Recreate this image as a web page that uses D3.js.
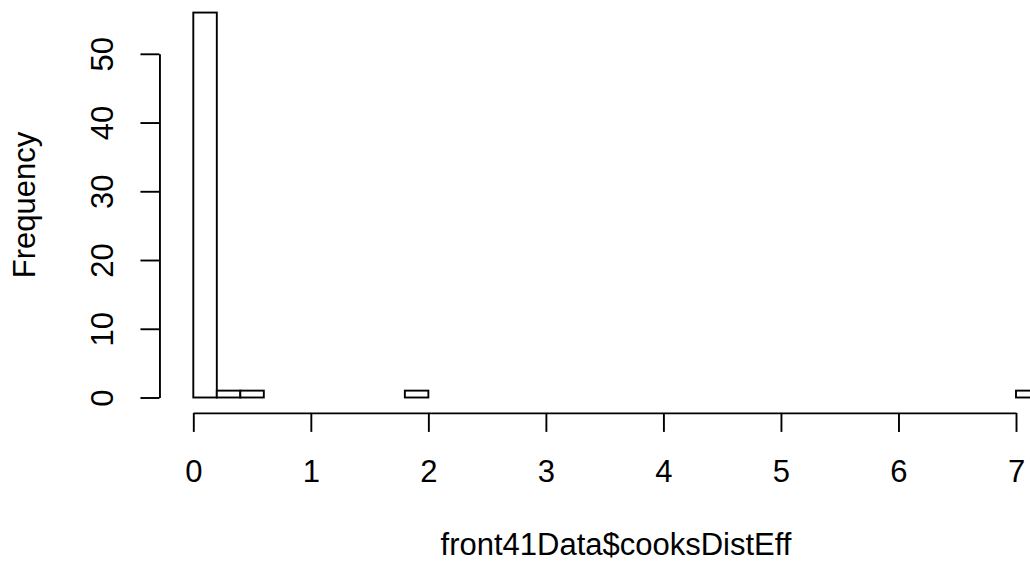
<!DOCTYPE html>
<html>
<head>
<meta charset="utf-8">
<script src="https://cdn.jsdelivr.net/npm/d3@7"></script>
<style>
  html, body { margin: 0; padding: 0; background: #fff; }
  svg { display: block; }
  text { font-family: "Liberation Sans", Arial, Helvetica, sans-serif; fill: #000; }
</style>
</head>
<body>
<svg id="chart" width="1030" height="565"></svg>
<script>
// Histogram bins (width 0.2) and their counts
const binStarts = [0.0,0.2,0.4,0.6,0.8,1.0,1.2,1.4,1.6,1.8,2.0,2.2,2.4,2.6,2.8,3.0,3.2,3.4,
                   3.6,3.8,4.0,4.2,4.4,4.6,4.8,5.0,5.2,5.4,5.6,5.8,6.0,6.2,6.4,6.6,6.8,7.0];
const binWidth = 0.2;
const counts = [56,1,1,0,0,0,0,0,0,1,0,0,0,0,0,0,0,0,
                0,0,0,0,0,0,0,0,0,0,0,0,0,0,0,0,0,1];
const xTicks = [0,1,2,3,4,5,6,7];
const yTicks = [0,10,20,30,40,50];
const xLabel = "front41Data$cooksDistEff";
const yLabel = "Frequency";

const svg = d3.select("#chart");
const lw = 1.9;
const fontSize = 31;

const x = d3.scaleLinear().domain([0, 7]).range([193.3, 1016]);
const y = d3.scaleLinear().domain([0, 50]).range([397.5, 53.8]);

const axisY = y(-2.24);   // bottom of plot region (usr min)
const axisX = x(-0.288);  // left of plot region

// bars
svg.append("g").selectAll("rect")
  .data(binStarts.map((s, i) => ({s, c: counts[i]})))
  .join("rect")
  .attr("x", d => x(d.s))
  .attr("width", d => x(d.s + binWidth) - x(d.s))
  .attr("y", d => y(d.c))
  .attr("height", d => y(0) - y(d.c))
  .attr("fill", "#fff")
  .attr("stroke", "#000")
  .attr("stroke-width", lw);

// x axis
const gx = svg.append("g")
  .attr("transform", `translate(0,${axisY})`)
  .call(d3.axisBottom(x).tickValues(xTicks).tickFormat(d3.format("d")).tickSize(19).tickSizeOuter(0));
gx.select(".domain").attr("stroke-width", lw);
gx.selectAll(".tick line").attr("stroke-width", lw);
gx.selectAll(".tick text")
  .attr("y", 68.8).attr("dy", 0)
  .style("font-size", fontSize + "px")
  .style("font-family", '"Liberation Sans", Arial, sans-serif');

// y axis
const gy = svg.append("g")
  .attr("transform", `translate(${axisX},0)`)
  .call(d3.axisLeft(y).tickValues(yTicks).tickFormat(d3.format("d")).tickSize(19).tickSizeOuter(0));
gy.select(".domain").attr("stroke-width", lw);
gy.selectAll(".tick line").attr("stroke-width", lw);
gy.selectAll(".tick text")
  .attr("x", 0).attr("y", 0).attr("dy", 0)
  .attr("text-anchor", "middle")
  .attr("transform", "translate(-46.3,0) rotate(-90)")
  .style("font-size", fontSize + "px")
  .style("font-family", '"Liberation Sans", Arial, sans-serif');
svg.selectAll(".domain, .tick line").attr("stroke", "#000");
svg.selectAll(".tick text").attr("fill", "#000");

// axis titles
svg.append("text")
  .attr("x", 616).attr("y", 555)
  .attr("text-anchor", "middle")
  .style("font-size", fontSize + "px")
  .text(xLabel);

svg.append("text")
  .attr("transform", `translate(35,${(axisY + y(58.24)) / 2}) rotate(-90)`)
  .attr("text-anchor", "middle")
  .style("font-size", fontSize + "px")
  .text(yLabel);
</script>
</body>
</html>
